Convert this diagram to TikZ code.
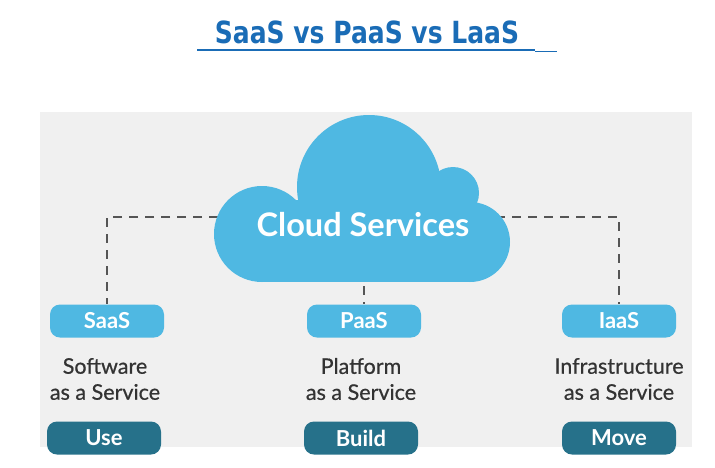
\documentclass[tikz,border=0pt]{standalone}
\usepackage{fontspec}
\setmainfont{Lato}
\newfontfamily\titlefont[FakeStretch=0.82]{DejaVu Sans}
\newfontfamily\captionfont[FakeBold=0.6]{Lato}
\definecolor{skyblue}{HTML}{4FB8E2}
\definecolor{deepteal}{HTML}{26718A}
\definecolor{panelgray}{HTML}{F0F0F0}
\definecolor{titleblue}{HTML}{1A6CB6}
\definecolor{inkgray}{HTML}{333333}
\definecolor{dashgray}{HTML}{555555}
\begin{document}
\begin{tikzpicture}[x=1pt, y=-1pt,
	tagbox/.style={fill=skyblue, rounded corners=10pt, minimum width=114pt, minimum height=33pt, inner sep=0pt, text=white, font=\bfseries\fontsize{22}{22}\selectfont},
	verbbox/.style={tagbox, fill=deepteal},
	caption/.style={align=center, text=inkgray, font=\captionfont\fontsize{21.5}{26}\selectfont},
	link/.style={dash pattern=on 9pt off 7pt, line width=1.5pt, dashgray}]
	\useasboundingbox (0,0) rectangle (715,467);
	\fill[panelgray] (40,112) rectangle (692,447);
	% title
	\node[text=titleblue, font=\titlefont\bfseries\fontsize{30.5}{30.5}\selectfont] (title) at (367,32) {SaaS vs PaaS vs LaaS};
	\draw[titleblue, line width=2.5pt] (197,50) -- (535,50);
	\draw[titleblue, line width=1pt] (535,51) -- (557,51);
	% service boxes
	\node[tagbox] (saas) at (107,321) {SaaS};
	\node[tagbox] (paas) at (364,321) {PaaS};
	\node[tagbox] (iaas) at (619,321) {IaaS};
	\node[caption] (saasdesc) at (105,379) {Software\\as a Service};
	\node[caption] (paasdesc) at (361,379) {Platform\\as a Service};
	\node[caption] (iaasdesc) at (619,379) {Infrastructure\\as a Service};
	\node[verbbox] (use) at (104,438) {Use};
	\node[verbbox] (build) at (361,438) {Build};
	\node[verbbox] (move) at (619,438) {Move};
	% dashed links (ends hidden under the cloud)
	\coordinate (cloudwest) at (250,217);
	\coordinate (cloudeast) at (480,217);
	\coordinate (cloudsouth) at (364,270);
	\draw[link] (cloudwest) -| (saas.north);
	\draw[link] (cloudeast) -| (iaas.north);
	\draw[link] (cloudsouth) -- (paas.north);
	% cloud
	\fill[skyblue] (369,187) circle (72);
	\fill[skyblue] (453,193) circle (26);
	\fill[skyblue] (262,234) circle (48);
	\fill[skyblue] (470,242) circle (40);
	\fill[skyblue] (262,200) rectangle (470,282);
	\node[text=white, font=\bfseries\fontsize{32.5}{32.5}\selectfont] (cloud) at (363,225) {Cloud Services};
\end{tikzpicture}
\end{document}
